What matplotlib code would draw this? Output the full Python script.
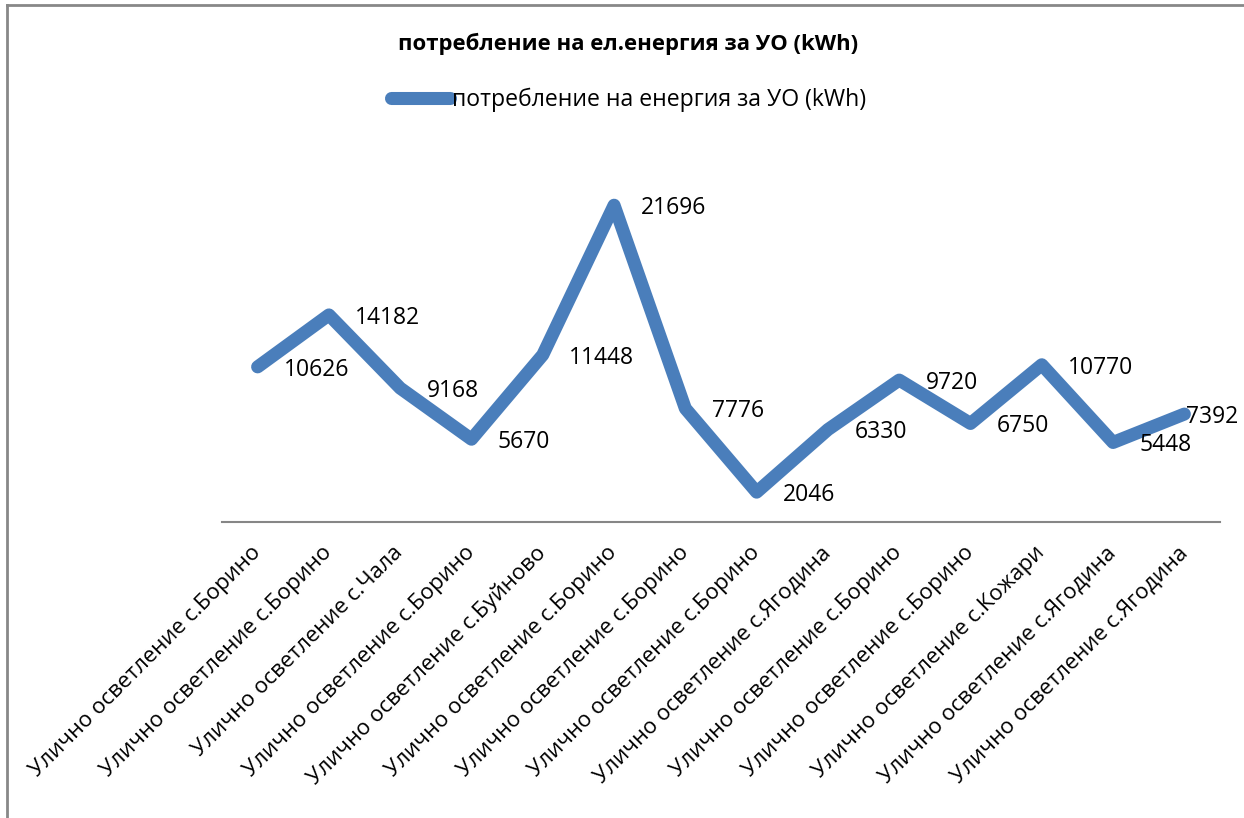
import matplotlib
matplotlib.use("Agg")
import matplotlib.pyplot as plt
from matplotlib.lines import Line2D

plt.rcParams['font.family'] = ['Open Sans', 'DejaVu Sans']

categories = [
    "Улично осветление с.Борино",
    "Улично осветление с.Борино",
    "Улично осветление с.Чала",
    "Улично осветление с.Борино",
    "Улично осветление с.Буйново",
    "Улично осветление с.Борино",
    "Улично осветление с.Борино",
    "Улично осветление с.Борино",
    "Улично осветление с.Ягодина",
    "Улично осветление с.Борино",
    "Улично осветление с.Борино",
    "Улично осветление с.Кожари",
    "Улично осветление с.Ягодина",
    "Улично осветление с.Ягодина",
]
values = [10626, 14182, 9168, 5670, 11448, 21696, 7776, 2046, 6330, 9720, 6750, 10770, 5448, 7392]
series_name = "потребление на енергия за УО (kWh)"
title = "потребление на ел.енергия за УО (kWh)"

W, H = 1244, 818
fig = plt.figure(figsize=(W / 100, H / 100), dpi=100)
ax = fig.add_axes([222 / W, 1 - 522 / H, 998 / W, 365 / H])

color = "#4a7ebb"
x = list(range(len(values)))
ax.plot(x, values, color=color, lw=9.4, solid_capstyle='round', solid_joinstyle='round')

for i, (xi, v) in enumerate(zip(x, values)):
    dx = 19 if i < len(values) - 1 else 1
    ax.annotate(str(v), (xi, v), xytext=(dx, -2), textcoords='offset points',
                ha='left', va='center', fontsize=16.5, color='black')

ax.set_xlim(-0.5, len(values) - 0.5)
ax.set_ylim(0, 25000)
ax.set_yticks([])
ax.set_xticks(x)
ax.set_xticklabels(categories, rotation=45, ha='right', va='center', rotation_mode='anchor', fontsize=16)
ax.tick_params(axis='x', length=0, pad=20)
for s in ['top', 'right', 'left']:
    ax.spines[s].set_visible(False)
ax.spines['bottom'].set_color('#868686')
ax.spines['bottom'].set_linewidth(1.5)

fig.text(628 / W, 1 - 44 / H, title, ha='center', va='center', fontsize=15.9, fontweight='bold')

handle = Line2D([0], [0], color=color, lw=9.4, solid_capstyle='round')
fig.legend([handle], [series_name], loc='center', bbox_to_anchor=(629 / W, 1 - 100 / H),
           frameon=False, fontsize=16.6, handlelength=2.55, handletextpad=0.1)

# outer frame (top and left edges visible)
fig.add_artist(Line2D([7 / W, 7 / W], [0, 1 - 5 / H], transform=fig.transFigure, color='#888888', lw=2))
fig.add_artist(Line2D([7 / W, 1], [1 - 5 / H, 1 - 5 / H], transform=fig.transFigure, color='#888888', lw=2))

fig.savefig("out.png", dpi=100)
